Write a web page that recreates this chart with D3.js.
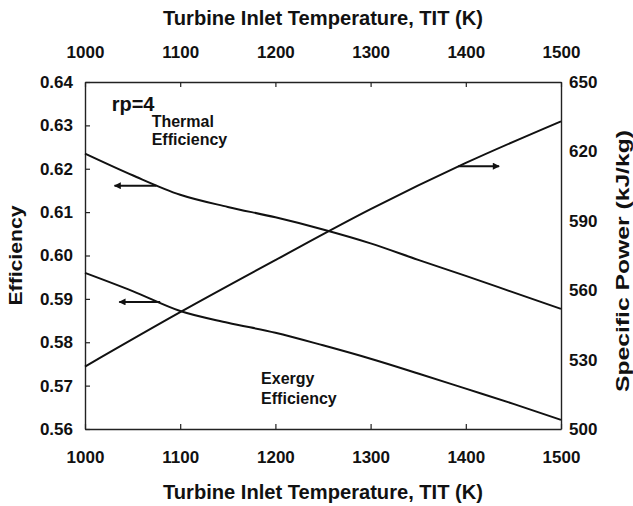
<!DOCTYPE html>
<html>
<head>
<meta charset="utf-8">
<script src="https://cdn.jsdelivr.net/npm/d3@7"></script>
<style>
  body { margin: 0; background: #fff; }
  svg { font-family: "Liberation Sans", Arial, sans-serif; font-weight: bold; }
</style>
</head>
<body>
<svg id="chart" width="633" height="506"></svg>
<script>
// data
var tit = [1000, 1050, 1100, 1150, 1200, 1250, 1300, 1350, 1400, 1450, 1500];
var thermalEff = [0.6235, 0.6185, 0.6140, 0.6112, 0.6088, 0.6060, 0.6028, 0.5990, 0.5953, 0.5915, 0.5877];
var exergyEff = [0.5960, 0.5918, 0.5872, 0.5845, 0.5822, 0.5793, 0.5762, 0.5728, 0.5693, 0.5658, 0.5621];
var titPower = [1000, 1100, 1200, 1300, 1400, 1500];
var specPower = [527, 550.5, 573, 595, 615, 633];

var xTicks = [1000, 1100, 1200, 1300, 1400, 1500];
var effTicks = [0.56, 0.57, 0.58, 0.59, 0.60, 0.61, 0.62, 0.63, 0.64];
var powTicks = [500, 530, 560, 590, 620, 650];

var svg = d3.select('#chart');
var m = {left: 85, right: 72, top: 82, bottom: 77};
var W = 633 - m.left - m.right;
var H = 506 - m.top - m.bottom;

var x = d3.scaleLinear().domain([1000, 1500]).range([0, W]);
var yL = d3.scaleLinear().domain([0.56, 0.64]).range([H, 0]);
var yR = d3.scaleLinear().domain([500, 650]).range([H, 0]);

var g = svg.append('g').attr('transform', 'translate(' + m.left + ',' + m.top + ')');

// axes, ticks pointing inwards
var bottomAx = g.append('g').attr('transform', 'translate(0,' + H + ')')
  .call(d3.axisBottom(x).tickValues(xTicks).tickFormat(d3.format('d')).tickSizeInner(-5).tickSizeOuter(0).tickPadding(22));
var topAx = g.append('g')
  .call(d3.axisTop(x).tickValues(xTicks).tickFormat(d3.format('d')).tickSizeInner(-5).tickSizeOuter(0).tickPadding(24));
var leftAx = g.append('g')
  .call(d3.axisLeft(yL).tickValues(effTicks).tickFormat(d3.format('.2f')).tickSizeInner(-5).tickSizeOuter(0).tickPadding(12));
var rightAx = g.append('g').attr('transform', 'translate(' + W + ',0)')
  .call(d3.axisRight(yR).tickValues(powTicks).tickFormat(d3.format('d')).tickSizeInner(0).tickSizeOuter(0).tickPadding(8));

g.selectAll('.domain').attr('stroke', '#222').attr('stroke-width', 1.4);
g.selectAll('.tick line').attr('stroke', '#222').attr('stroke-width', 1.2);
g.selectAll('.tick text').attr('fill', '#111').style('font-size', '17px').style('font-weight', 'bold')
  .style('font-family', '"Liberation Sans", Arial, sans-serif');
bottomAx.selectAll('.tick text').attr('dy', '0.71em');

// curves
var lineL = function(vals) {
  return d3.line().x(function(d, i) { return x(tit[i]); }).y(function(d) { return yL(d); }).curve(d3.curveMonotoneX)(vals);
};
g.append('path').attr('d', lineL(thermalEff)).attr('fill', 'none').attr('stroke', '#111').attr('stroke-width', 2);
g.append('path').attr('d', lineL(exergyEff)).attr('fill', 'none').attr('stroke', '#111').attr('stroke-width', 2);
var linePow = d3.line().x(function(d, i) { return x(titPower[i]); }).y(function(d) { return yR(d); }).curve(d3.curveMonotoneX);
g.append('path').attr('d', linePow(specPower)).attr('fill', 'none').attr('stroke', '#111').attr('stroke-width', 2);

// arrows
svg.append('defs').append('marker')
  .attr('id', 'ah').attr('viewBox', '0 0 10 10').attr('refX', 9).attr('refY', 5)
  .attr('markerWidth', 9).attr('markerHeight', 7).attr('markerUnits', 'userSpaceOnUse').attr('orient', 'auto')
  .append('path').attr('d', 'M0,0 L10,5 L0,10 Z').attr('fill', '#111');

function arrow(t0, t1, yv, sc) {
  g.append('line').attr('x1', x(t0)).attr('x2', x(t1)).attr('y1', sc(yv)).attr('y2', sc(yv))
    .attr('stroke', '#111').attr('stroke-width', 2).attr('marker-end', 'url(#ah)');
}
arrow(1075, 1031, 0.6161, yL);
arrow(1079, 1036, 0.5893, yL);
arrow(1392, 1435, 613.6, yR);

// annotations
function label(txt, t, v, size) {
  g.append('text').attr('x', x(t)).attr('y', yL(v)).text(txt)
    .style('font-size', size + 'px').attr('fill', '#111');
}
label('rp=4', 1028, 0.6334, 20);
label('Thermal', 1070, 0.6296, 16);
label('Efficiency', 1070, 0.6255, 16);
label('Exergy', 1185, 0.5703, 16);
label('Efficiency', 1185, 0.5658, 16);

// axis titles
svg.append('text').attr('x', m.left + W / 2).attr('y', 25).attr('text-anchor', 'middle')
  .attr('textLength', 320).attr('lengthAdjust', 'spacingAndGlyphs')
  .style('font-size', '20px').attr('fill', '#111').text('Turbine Inlet Temperature, TIT (K)');
svg.append('text').attr('x', m.left + W / 2).attr('y', 499).attr('text-anchor', 'middle')
  .attr('textLength', 320).attr('lengthAdjust', 'spacingAndGlyphs')
  .style('font-size', '20px').attr('fill', '#111').text('Turbine Inlet Temperature, TIT (K)');
svg.append('text').attr('transform', 'translate(22,' + (m.top + H / 2) + ') rotate(-90)').attr('text-anchor', 'middle')
  .attr('textLength', 100).attr('lengthAdjust', 'spacingAndGlyphs')
  .style('font-size', '19px').attr('fill', '#111').text('Efficiency');
svg.append('text').attr('transform', 'translate(629,' + 261 + ') rotate(-90)').attr('text-anchor', 'middle')
  .attr('textLength', 262).attr('lengthAdjust', 'spacingAndGlyphs')
  .style('font-size', '19px').attr('fill', '#111').text('Specific Power (kJ/kg)');
</script>
</body>
</html>
